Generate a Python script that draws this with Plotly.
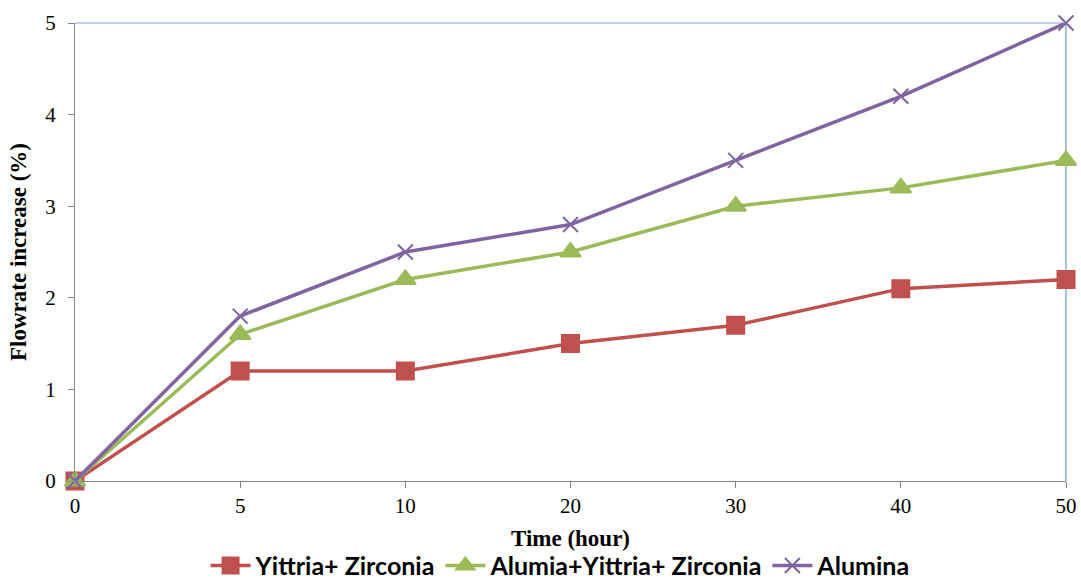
import plotly.graph_objects as go

hours = ["0", "5", "10", "20", "30", "40", "50"]
yittria_zirconia = [0, 1.2, 1.2, 1.5, 1.7, 2.1, 2.2]
alumia_yittria_zirconia = [0, 1.6, 2.2, 2.5, 3.0, 3.2, 3.5]
alumina = [0, 1.8, 2.5, 2.8, 3.5, 4.2, 5.0]

series = [
    ("Yittria+ Zirconia", yittria_zirconia, "#C0504D", "square", 17),
    ("Alumia+Yittria+ Zirconia", alumia_yittria_zirconia, "#9BBB59", "triangle-up", 18),
    ("Alumina", alumina, "#8064A2", "x-thin", 15),
]

fig = go.Figure()
for name, vals, color, sym, size in series:
    fig.add_trace(go.Scatter(
        x=hours, y=vals, name="<b>" + name + "</b>", mode="lines+markers",
        line=dict(color=color, width=3.5),
        marker=dict(symbol=sym, size=size, color=color,
                    line=dict(color=color, width=2)),
        cliponaxis=False,
    ))

serif = "Liberation Serif, Times New Roman, serif"
fig.update_layout(
    width=1081, height=585,
    margin=dict(l=75, r=15, t=23, b=104, autoexpand=False),
    paper_bgcolor="white", plot_bgcolor="white",
    showlegend=True,
    legend=dict(
        orientation="h", x=0.49, xanchor="center", y=-0.185, yanchor="middle",
        font=dict(family="Lato, Open Sans, sans-serif", size=25, color="black"),
        itemwidth=40, tracegroupgap=0,
    ),
    xaxis=dict(
        type="category", range=[0, 6], showgrid=False, zeroline=False,
        showline=True, linecolor="#868686", linewidth=1,
        ticks="outside", ticklen=6, tickcolor="#868686",
        tickfont=dict(family=serif, size=21, color="black"),
        title=dict(text="<b>Time (hour)</b>", font=dict(family=serif, size=23, color="black"),
                   standoff=12),
    ),
    yaxis=dict(
        range=[0, 5], dtick=1, showgrid=False, zeroline=False,
        showline=True, linecolor="#868686", linewidth=1,
        ticks="outside", ticklen=6, tickcolor="#868686", ticklabelstandoff=8,
        tickfont=dict(family=serif, size=21, color="black"),
        title=dict(text="<b>Flowrate increase (%)</b>", font=dict(family=serif, size=23, color="black"),
                   standoff=12),
    ),
    shapes=[
        dict(type="line", xref="paper", yref="paper", x0=0, x1=1, y0=1, y1=1,
             line=dict(color="#7FA7D8", width=1.2), layer="below"),
        dict(type="line", xref="paper", yref="paper", x0=1, x1=1, y0=0, y1=1,
             line=dict(color="#6F9BD1", width=1.2), layer="below"),
    ],
)

fig.write_html("out.html")
